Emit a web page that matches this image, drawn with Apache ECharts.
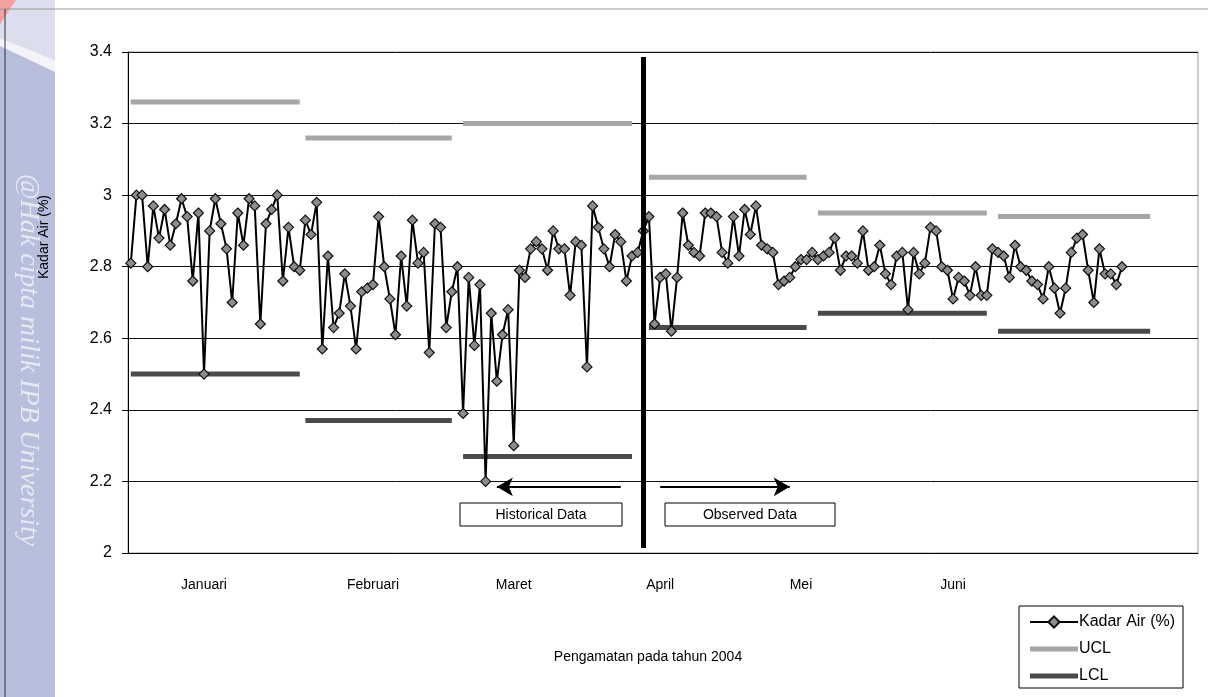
<!DOCTYPE html>
<html><head><meta charset="utf-8">
<script src="https://cdn.jsdelivr.net/npm/echarts@6/dist/echarts.min.js"></script>
<style>html,body{margin:0;padding:0;background:#fff;}#c{width:1208px;height:697px;}</style>
</head><body><div id="c"></div>
<script>
// ---- data ----
const categoryCount = 190;
const monthNames = ['Januari', 'Februari', 'Maret', 'April', 'Mei', 'Juni'];
const monthLabelAt = [13, 43, 68, 94, 119, 146];

const januari = [2.81, 3.00, 3.00, 2.80, 2.97, 2.88, 2.96, 2.86, 2.92, 2.99, 2.94, 2.76, 2.95, 2.50, 2.90, 2.99,
  2.92, 2.85, 2.70, 2.95, 2.86, 2.99, 2.97, 2.64, 2.92, 2.96, 3.00, 2.76, 2.91, 2.80, 2.79];
const februari = [2.93, 2.89, 2.98, 2.57, 2.83, 2.63, 2.67, 2.78, 2.69, 2.57, 2.73, 2.74, 2.75, 2.94, 2.80, 2.71,
  2.61, 2.83, 2.69, 2.93, 2.81, 2.84, 2.56, 2.92, 2.91, 2.63, 2.73, 2.80];
const maret = [2.39, 2.77, 2.58, 2.75, 2.20, 2.67, 2.48, 2.61, 2.68, 2.30, 2.79, 2.77, 2.85, 2.87, 2.85, 2.79,
  2.90, 2.85, 2.85, 2.72, 2.87, 2.86, 2.52, 2.97, 2.91, 2.85, 2.80, 2.89, 2.87, 2.76, 2.83, 2.84, 2.90];
const april = [2.94, 2.64, 2.77, 2.78, 2.62, 2.77, 2.95, 2.86, 2.84, 2.83, 2.95, 2.95, 2.94, 2.84, 2.81, 2.94,
  2.83, 2.96, 2.89, 2.97, 2.86, 2.85, 2.84, 2.75, 2.76, 2.77, 2.80, 2.82, 2.82, 2.84];
const mei = [2.82, 2.83, 2.84, 2.88, 2.79, 2.83, 2.83, 2.81, 2.90, 2.79, 2.80, 2.86, 2.78, 2.75, 2.83, 2.84,
  2.68, 2.84, 2.78, 2.81, 2.91, 2.90, 2.80, 2.79, 2.71, 2.77, 2.76, 2.72, 2.80, 2.72, 2.72, 2.85];
const juni = [2.84, 2.83, 2.77, 2.86, 2.80, 2.79, 2.76, 2.75, 2.71, 2.80, 2.74, 2.67, 2.74, 2.84, 2.88, 2.89,
  2.79, 2.70, 2.85, 2.78, 2.78, 2.75, 2.80];

const uclValues = [3.26, 3.16, 3.20, 3.05, 2.95, 2.94];
const lclValues = [2.50, 2.37, 2.27, 2.63, 2.67, 2.62];
const limitStart = [0, 31, 59, 92, 122, 154];
const limitEnd = [30, 57, 89, 120, 152, 181];

const splitIndex = 91;
const splitRange = [3.386, 2.014];
const arrowY = 2.185;
const historicalArrow = [87, 65];
const observedArrow = [94, 117];

// ---- build ----
const kadarAir = [].concat(januari, februari, maret, april, mei, juni);
const categories = Array.from({length: categoryCount}, (_, i) => {
  const k = monthLabelAt.indexOf(i);
  return k >= 0 ? monthNames[k] : String(i + 1);
});
const FONT = 'Arial, "Liberation Sans", sans-serif';
const UCL_COLOR = '#a6a6a6';
const LCL_COLOR = '#4a4a4a';

function limitSeries(name, values, color) {
  return values.map((v, m) => {
    const d = new Array(categoryCount).fill(null);
    for (let i = limitStart[m]; i <= limitEnd[m]; i++) d[i] = v;
    return {
      name: name, type: 'line', data: d, symbol: 'none', z: 2,
      lineStyle: {color: color, width: 5}, itemStyle: {color: color},
      connectNulls: false, silent: true
    };
  });
}

const barIcon = 'path://M0,0 L48,0 L48,5 L0,5 Z';

const chart = echarts.init(document.getElementById('c'), null, {renderer: 'canvas'});
const option = {
  animation: false,
  backgroundColor: '#fff',
  textStyle: {fontFamily: FONT},
  grid: {left: 128, top: 52, width: 1070, height: 501, show: true, borderColor: '#999', borderWidth: 1},
  legend: {
    orient: 'vertical', left: 1019, top: 606,
    data: [
      {name: 'Kadar Air (%)'},
      {name: 'UCL', icon: barIcon, itemStyle: {color: UCL_COLOR}},
      {name: 'LCL', icon: barIcon, itemStyle: {color: LCL_COLOR}}
    ],
    itemWidth: 48, itemHeight: 14, itemGap: 11,
    padding: [8, 8, 4, 10],
    borderColor: '#000', borderWidth: 1, backgroundColor: '#fff',
    textStyle: {color: '#000', fontSize: 16, fontFamily: FONT, padding: [0, 0, 0, -4]}
  },
  xAxis: {
    type: 'category', data: categories, boundaryGap: true,
    axisLine: {lineStyle: {color: '#000', width: 1}},
    axisTick: {show: false},
    axisLabel: {interval: (i) => monthLabelAt.indexOf(i) >= 0, color: '#000', fontSize: 14, fontFamily: FONT, margin: 25},
    splitLine: {show: false}
  },
  yAxis: {
    type: 'value', min: 2, max: 3.4, interval: 0.2,
    axisLine: {show: true, lineStyle: {color: '#000', width: 1}},
    axisTick: {show: true, length: 6, lineStyle: {color: '#000'}},
    axisLabel: {color: '#000', fontSize: 16, fontFamily: FONT, margin: 16},
    splitLine: {show: true, lineStyle: {color: '#111', width: 1}}
  },
  series: [
    {
      name: 'Kadar Air (%)', type: 'line', data: kadarAir, z: 4,
      symbol: 'diamond', symbolSize: 10, showAllSymbol: true,
      lineStyle: {color: '#000', width: 2},
      itemStyle: {color: '#8c8c8c', borderColor: '#111', borderWidth: 1.2},
      markLine: {
        silent: true, animation: false, label: {show: false}, symbol: ['none', 'none'],
        data: [
          [{coord: [splitIndex, splitRange[0]], lineStyle: {color: '#000', width: 5, type: 'solid'}},
           {coord: [splitIndex, splitRange[1]]}],
          [{coord: [historicalArrow[0], arrowY], symbol: 'none', lineStyle: {color: '#000', width: 2, type: 'solid'}},
           {coord: [historicalArrow[1], arrowY], symbol: 'arrow', symbolSize: [14, 16]}],
          [{coord: [observedArrow[0], arrowY], symbol: 'none', lineStyle: {color: '#000', width: 2, type: 'solid'}},
           {coord: [observedArrow[1], arrowY], symbol: 'arrow', symbolSize: [14, 16]}]
        ]
      }
    }
  ].concat(limitSeries('UCL', uclValues, UCL_COLOR), limitSeries('LCL', lclValues, LCL_COLOR)),
  graphic: [
    {type: 'rect', shape: {x: 0, y: 0, width: 55, height: 697}, style: {fill: '#b8bfdc'}, z: 0},
    {type: 'polygon', shape: {points: [[0, 0], [55, 0], [55, 60], [0, 38]]}, style: {fill: '#dcdded'}, z: 0},
    {type: 'polygon', shape: {points: [[0, 38], [55, 60], [55, 72], [0, 46]]}, style: {fill: '#f3f3f8'}, z: 0},
    {type: 'polygon', shape: {points: [[0, 0], [16, 0], [0, 24]]}, style: {fill: '#f2a0a0'}, z: 0},
    {type: 'line', shape: {x1: 0, y1: 9, x2: 1208, y2: 9}, style: {stroke: '#9a9a9a', lineWidth: 1}, z: 0},
    {type: 'line', shape: {x1: 5, y1: 9, x2: 5, y2: 697}, style: {stroke: '#333', lineWidth: 1}, z: 0},
    {type: 'text', x: 28, y: 360, rotation: -Math.PI / 2, z: 1,
     style: {text: '@Hak cipta milik IPB University', fill: 'rgba(255,255,255,0.65)', font: 'italic 28px "Liberation Serif", "DejaVu Serif", serif', textAlign: 'center', textVerticalAlign: 'middle'}},
    {type: 'text', x: 44, y: 237, rotation: Math.PI / 2, z: 2,
     style: {text: 'Kadar Air (%)', fill: '#000', font: '14px ' + FONT, textAlign: 'center', textVerticalAlign: 'middle'}},
    {type: 'text', x: 648, y: 657, z: 2,
     style: {text: 'Pengamatan pada tahun 2004', fill: '#000', font: '14px ' + FONT, textAlign: 'center', textVerticalAlign: 'middle'}},
    {type: 'rect', shape: {x: 460, y: 503, width: 162, height: 23}, style: {fill: '#fff', stroke: '#000', lineWidth: 1}, z: 5},
    {type: 'text', x: 541, y: 515, z: 6,
     style: {text: 'Historical Data', fill: '#000', font: '14px ' + FONT, textAlign: 'center', textVerticalAlign: 'middle'}},
    {type: 'rect', shape: {x: 665, y: 503, width: 170, height: 23}, style: {fill: '#fff', stroke: '#000', lineWidth: 1}, z: 5},
    {type: 'text', x: 750, y: 515, z: 6,
     style: {text: 'Observed Data', fill: '#000', font: '14px ' + FONT, textAlign: 'center', textVerticalAlign: 'middle'}}
  ]
};
chart.setOption(option);
</script></body></html>
